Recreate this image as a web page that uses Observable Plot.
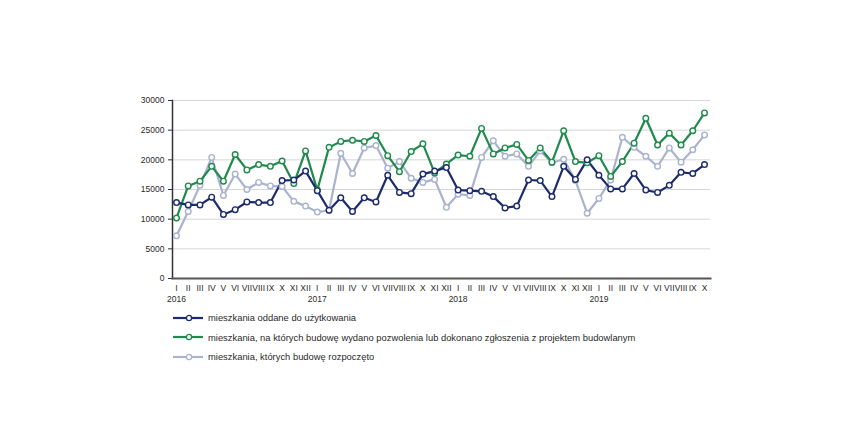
<!DOCTYPE html>
<html><head><meta charset="utf-8">
<script src="https://cdn.jsdelivr.net/npm/d3@7"></script>
<script src="https://cdn.jsdelivr.net/npm/@observablehq/plot@0.6"></script>
<style>
body{margin:0;background:#fff;font-family:"Liberation Sans",Arial,sans-serif;}
#wrap{position:relative;width:852px;height:447px;overflow:hidden;}
#chart svg{display:block;}
#legend{position:absolute;left:172px;top:308px;font-size:9.4px;color:#2a2a2a;}
.item{display:flex;align-items:center;height:19.5px;}
.item svg{margin-right:4px;}
</style></head><body>
<div id="wrap"><div id="chart"></div><div id="legend"></div></div>
<script>
const months = ["I","II","III","IV","V","VI","VII","VIII","IX","X","XI","XII"];
const years = ["2016","2017","2018","2019"];
const yTicks = [0,5000,10000,15000,20000,25000,30000];
const seriesNames = [
  "mieszkania oddane do użytkowania",
  "mieszkania, na których budowę wydano pozwolenia lub dokonano zgłoszenia z projektem budowlanym",
  "mieszkania, których budowę rozpoczęto"
];
const seriesColors = ["#1c2b6e","#1f8a4c","#a9b3cf"];
// I 2016 .. X 2019
const oddane = [
  12800,12400,12400,13700,10800,11600,12900,12800,12800,16500,16600,18100,
  14800,11500,13600,11300,13600,12900,17400,14500,14300,17600,18100,18700,
  14900,14800,14700,13800,11900,12200,16600,16500,13800,18900,16700,20000,
  17400,15100,15100,17700,14900,14500,15700,17900,17700,19200
];
const pozwolenia = [
  10200,15600,16400,18900,16400,20900,18300,19200,18900,19800,16000,21500,
  14900,22100,23100,23300,23100,24100,20700,18000,21400,22700,17800,19300,
  20800,20600,25300,21000,22000,22600,19900,22000,19600,24900,19700,19500,
  20700,17200,19700,22800,27000,22500,24500,22500,24900,27900
];
const rozpoczete = [
  7200,11300,15700,20400,14000,17600,15000,16200,15600,15500,13000,12200,
  11200,11500,21100,17700,22000,22400,18600,19700,16900,16200,16700,12000,
  14200,14000,20400,23200,20600,21000,18900,21500,19500,20100,16500,11000,
  13500,16600,23800,22100,20600,18900,22000,19600,21700,24200
];

const seriesValues = [oddane, pozwolenia, rozpoczete];
const drawOrder = [2,1,0];
const data = [];
for (const s of drawOrder) {
  seriesValues[s].forEach((v,i) => data.push({i, value:v, series:seriesNames[s]}));
}
const idx = d3.range(oddane.length);
const yearIdx = years.map((y,k) => k*12);

const chart = Plot.plot({
  width: 852,
  height: 310,
  marginLeft: 172,
  marginRight: 142,
  marginTop: 100,
  marginBottom: 32,
  style: {fontFamily: '"Liberation Sans", Arial, sans-serif', background: "#fff", color: "#2a2a2a"},
  x: {type: "linear", domain: [0, oddane.length - 1], insetLeft: 4, insetRight: 6, axis: null},
  y: {domain: [0, 30000], axis: null},
  color: {domain: seriesNames, range: seriesColors},
  marks: [
    Plot.gridY(yTicks, {stroke: "#d6d6d6", strokeOpacity: 1, strokeWidth: 1}),
    Plot.axisY(yTicks, {tickSize: 4, tickPadding: 4, fontSize: 8.5, tickFormat: d3.format("d"), label: null, stroke: "#333", fill: "#2a2a2a"}),
    Plot.frame({anchor: "left", stroke: "#333", strokeWidth: 1.5}),
    Plot.frame({anchor: "bottom", stroke: "#555", strokeWidth: 2}),
    Plot.line(data, {x: "i", y: "value", z: "series", stroke: "series", strokeWidth: 2.2}),
    Plot.dot(data, {x: "i", y: "value", stroke: "series", fill: "white", r: 2.8, strokeWidth: 1.4}),
    Plot.text(idx, {x: d => d, text: d => months[d % 12], frameAnchor: "bottom", dy: 12, fontSize: 8.5, fill: "#2a2a2a"}),
    Plot.text(yearIdx, {x: d => d, text: d => years[d / 12], frameAnchor: "bottom", dy: 23, fontSize: 8.5, fill: "#2a2a2a"})
  ]
});
document.getElementById("chart").appendChild(chart);

const legend = document.getElementById("legend");
seriesNames.forEach((name, k) => {
  const item = document.createElement("div");
  item.className = "item";
  item.innerHTML = `<svg width="32" height="10"><line x1="1" y1="5" x2="31" y2="5" stroke="${seriesColors[k]}" stroke-width="2.2"/><circle cx="17" cy="5" r="2.6" fill="white" stroke="${seriesColors[k]}" stroke-width="1.3"/></svg><span>${name}</span>`;
  legend.appendChild(item);
});
</script>
</body></html>
